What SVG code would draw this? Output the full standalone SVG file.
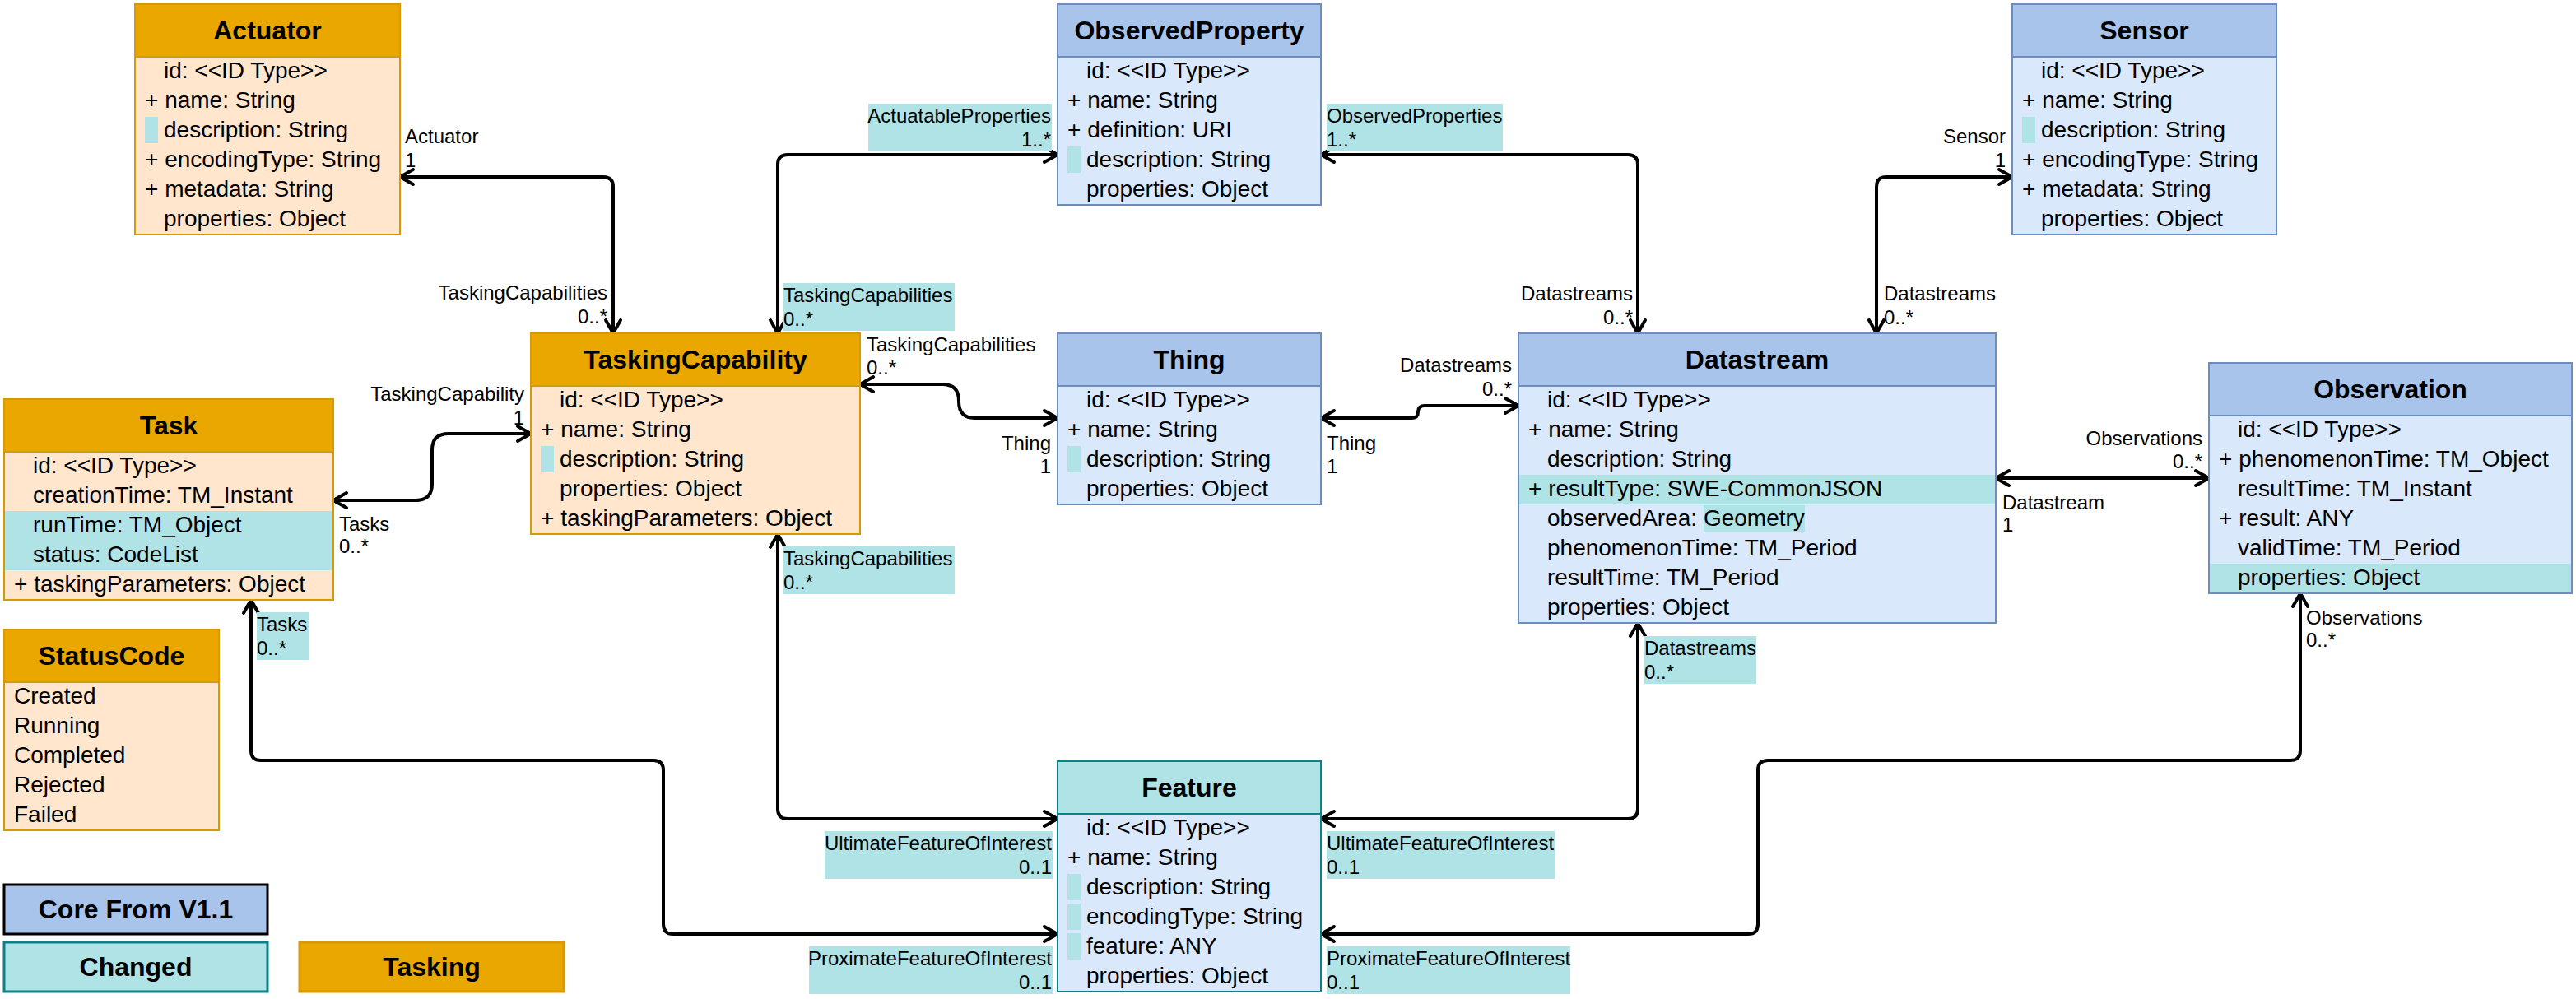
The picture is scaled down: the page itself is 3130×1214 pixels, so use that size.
<svg xmlns="http://www.w3.org/2000/svg" width="3130" height="1214" viewBox="0 0 3130 1214">
<style>
text{font-family:"Liberation Sans",Arial,Helvetica,sans-serif;font-size:28px;fill:#000}
.h{font-weight:bold;font-size:32px;text-anchor:middle}
.l{font-size:24px}
.e{text-anchor:end}
.ob{fill:#FFE6CC;stroke:#D79B00;stroke-width:2}
.oh{fill:#EAA700;stroke:#D79B00;stroke-width:2}
.bb{fill:#DAE8FC;stroke:#6C8EBF;stroke-width:2}
.bh{fill:#A9C4EB;stroke:#6C8EBF;stroke-width:2}
.fb{fill:#DAE8FC;stroke:#0E8088;stroke-width:2}
.fh{fill:#B0E3E6;stroke:#0E8088;stroke-width:2}
.c{fill:#B0E3E6}
.conn path{fill:none;stroke:#000;stroke-width:4;marker-start:url(#arr);marker-end:url(#arr)}
</style>
<defs>
<marker id="arr" viewBox="-22 -14 28 28" refX="0" refY="0" markerWidth="28" markerHeight="28" markerUnits="userSpaceOnUse" orient="auto-start-reverse">
<path d="M-16,-9 L0,0 L-16,9" fill="none" stroke="#000" stroke-width="4" stroke-linecap="round"/>
</marker>
</defs>
<rect width="3130" height="1214" fill="#fff"/>

<g id="connectors" class="conn">
<path d="M486,215 L733,215 Q745,215 745,227 L745,405"/>
<path d="M1285,188 L957,188 Q945,188 945,200 L945,405"/>
<path d="M1605,188 L1978,188 Q1990,188 1990,200 L1990,405"/>
<path d="M2445,215 L2292,215 Q2280,215 2280,227 L2280,405"/>
<path d="M405,608 L505,608 Q525,608 525,588 L525,547 Q525,527 545,527 L645,527"/>
<path d="M1045,467 L1145,467 Q1165,467 1165,487 L1165,488 Q1165,508 1185,508 L1285,508"/>
<path d="M1605,508 L1715,508 Q1723,508 1723,500.5 Q1723,493 1731,493 L1845,493"/>
<path d="M2425,581 L2684,581"/>
<path d="M945,649 L945,983 Q945,995 957,995 L1285,995"/>
<path d="M1990,757 L1990,983 Q1990,995 1978,995 L1605,995"/>
<path d="M305,729 L305,912 Q305,924 317,924 L794,924 Q806,924 806,936 L806,1123 Q806,1135 818,1135 L1285,1135"/>
<path d="M2795,721 L2795,912 Q2795,924 2783,924 L2148,924 Q2136,924 2136,936 L2136,1123 Q2136,1135 2124,1135 L1605,1135"/>
<g id="edge-labels">
<rect class="c" x="1055" y="126" width="223" height="58"/>
<rect class="c" x="952" y="344" width="208" height="58"/>
<rect class="c" x="1612" y="126" width="214" height="58"/>
<rect class="c" x="312" y="744" width="64" height="58"/>
<rect class="c" x="952" y="664" width="208" height="58"/>
<rect class="c" x="1998" y="773" width="136" height="58"/>
<rect class="c" x="1002" y="1010" width="277" height="58"/>
<rect class="c" x="983" y="1150" width="296" height="58"/>
<rect class="c" x="1612" y="1010" width="277" height="58"/>
<rect class="c" x="1612" y="1150" width="296" height="58"/>
<text class="l" x="492" y="174">Actuator</text><text class="l" x="492" y="203">1</text>
<text class="l e" x="738" y="364">TaskingCapabilities</text><text class="l e" x="738" y="393">0..*</text>
<text class="l e" x="1277" y="149">ActuatableProperties</text><text class="l e" x="1277" y="178">1..*</text>
<text class="l" x="952" y="367">TaskingCapabilities</text><text class="l" x="952" y="396">0..*</text>
<text class="l" x="1612" y="149">ObservedProperties</text><text class="l" x="1612" y="178">1..*</text>
<text class="l e" x="1984" y="365">Datastreams</text><text class="l e" x="1984" y="394">0..*</text>
<text class="l e" x="2437" y="174">Sensor</text><text class="l e" x="2437" y="203">1</text>
<text class="l" x="2289" y="365">Datastreams</text><text class="l" x="2289" y="394">0..*</text>
<text class="l e" x="637" y="487">TaskingCapability</text><text class="l e" x="637" y="516">1</text>
<text class="l" x="412" y="645">Tasks</text><text class="l" x="412" y="672">0..*</text>
<text class="l" x="1053" y="427">TaskingCapabilities</text><text class="l" x="1053" y="455">0..*</text>
<text class="l e" x="1277" y="547">Thing</text><text class="l e" x="1277" y="575">1</text>
<text class="l" x="1612" y="547">Thing</text><text class="l" x="1612" y="575">1</text>
<text class="l e" x="1837" y="452">Datastreams</text><text class="l e" x="1837" y="481">0..*</text>
<text class="l e" x="2676" y="541">Observations</text><text class="l e" x="2676" y="569">0..*</text>
<text class="l" x="2433" y="619">Datastream</text><text class="l" x="2433" y="646">1</text>
<text class="l" x="312" y="767">Tasks</text><text class="l" x="312" y="796">0..*</text>
<text class="l" x="952" y="687">TaskingCapabilities</text><text class="l" x="952" y="716">0..*</text>
<text class="l" x="1998" y="796">Datastreams</text><text class="l" x="1998" y="825">0..*</text>
<text class="l" x="2802" y="759">Observations</text><text class="l" x="2802" y="786">0..*</text>
<text class="l e" x="1278" y="1033">UltimateFeatureOfInterest</text><text class="l e" x="1278" y="1062">0..1</text>
<text class="l e" x="1278" y="1173">ProximateFeatureOfInterest</text><text class="l e" x="1278" y="1202">0..1</text>
<text class="l" x="1612" y="1033">UltimateFeatureOfInterest</text><text class="l" x="1612" y="1062">0..1</text>
<text class="l" x="1612" y="1173">ProximateFeatureOfInterest</text><text class="l" x="1612" y="1202">0..1</text>
</g>
</g>

<g id="actuator">
<rect class="ob" x="164" y="5" width="322" height="280"/>
<rect class="oh" x="164" y="5" width="322" height="64"/>
<text class="h" x="325" y="48">Actuator</text>
<rect class="c" x="176" y="142" width="16" height="32"/>
<text x="199" y="95">id: &lt;&lt;ID Type&gt;&gt;</text>
<text x="176" y="131">+ name: String</text>
<text x="199" y="167">description: String</text>
<text x="176" y="203">+ encodingType: String</text>
<text x="176" y="239">+ metadata: String</text>
<text x="199" y="275">properties: Object</text>
</g>

<g id="task">
<rect class="ob" x="5" y="485" width="400" height="244"/>
<rect class="oh" x="5" y="485" width="400" height="64"/>
<rect class="c" x="6" y="621" width="398" height="72"/>
<text class="h" x="205" y="528">Task</text>
<text x="40" y="575">id: &lt;&lt;ID Type&gt;&gt;</text>
<text x="40" y="611">creationTime: TM_Instant</text>
<text x="40" y="647">runTime: TM_Object</text>
<text x="40" y="683">status: CodeList</text>
<text x="17" y="719">+ taskingParameters: Object</text>
</g>

<g id="statuscode">
<rect class="ob" x="5" y="765" width="261" height="244"/>
<rect class="oh" x="5" y="765" width="261" height="64"/>
<text class="h" x="135.5" y="808">StatusCode</text>
<text x="17" y="855">Created</text>
<text x="17" y="891">Running</text>
<text x="17" y="927">Completed</text>
<text x="17" y="963">Rejected</text>
<text x="17" y="999">Failed</text>
</g>

<g id="taskingcapability">
<rect class="ob" x="645" y="405" width="400" height="244"/>
<rect class="oh" x="645" y="405" width="400" height="64"/>
<text class="h" x="845" y="448">TaskingCapability</text>
<rect class="c" x="657" y="542" width="16" height="32"/>
<text x="680" y="495">id: &lt;&lt;ID Type&gt;&gt;</text>
<text x="657" y="531">+ name: String</text>
<text x="680" y="567">description: String</text>
<text x="680" y="603">properties: Object</text>
<text x="657" y="639">+ taskingParameters: Object</text>
</g>

<g id="observedproperty">
<rect class="bb" x="1285" y="5" width="320" height="244"/>
<rect class="bh" x="1285" y="5" width="320" height="64"/>
<text class="h" x="1445" y="48">ObservedProperty</text>
<rect class="c" x="1297" y="178" width="16" height="32"/>
<text x="1320" y="95">id: &lt;&lt;ID Type&gt;&gt;</text>
<text x="1297" y="131">+ name: String</text>
<text x="1297" y="167">+ definition: URI</text>
<text x="1320" y="203">description: String</text>
<text x="1320" y="239">properties: Object</text>
</g>

<g id="thing">
<rect class="bb" x="1285" y="405" width="320" height="208"/>
<rect class="bh" x="1285" y="405" width="320" height="64"/>
<text class="h" x="1445" y="448">Thing</text>
<rect class="c" x="1297" y="542" width="16" height="32"/>
<text x="1320" y="495">id: &lt;&lt;ID Type&gt;&gt;</text>
<text x="1297" y="531">+ name: String</text>
<text x="1320" y="567">description: String</text>
<text x="1320" y="603">properties: Object</text>
</g>

<g id="sensor">
<rect class="bb" x="2445" y="5" width="321" height="280"/>
<rect class="bh" x="2445" y="5" width="321" height="64"/>
<text class="h" x="2605.5" y="48">Sensor</text>
<rect class="c" x="2457" y="142" width="16" height="32"/>
<text x="2480" y="95">id: &lt;&lt;ID Type&gt;&gt;</text>
<text x="2457" y="131">+ name: String</text>
<text x="2480" y="167">description: String</text>
<text x="2457" y="203">+ encodingType: String</text>
<text x="2457" y="239">+ metadata: String</text>
<text x="2480" y="275">properties: Object</text>
</g>

<g id="datastream">
<rect class="bb" x="1845" y="405" width="580" height="352"/>
<rect class="bh" x="1845" y="405" width="580" height="64"/>
<rect class="c" x="1846" y="577" width="578" height="36"/>
<rect class="c" x="2070" y="614" width="123" height="32"/>
<text class="h" x="2135" y="448">Datastream</text>
<text x="1880" y="495">id: &lt;&lt;ID Type&gt;&gt;</text>
<text x="1857" y="531">+ name: String</text>
<text x="1880" y="567">description: String</text>
<text x="1857" y="603">+ resultType: SWE-CommonJSON</text>
<text x="1880" y="639">observedArea: Geometry</text>
<text x="1880" y="675">phenomenonTime: TM_Period</text>
<text x="1880" y="711">resultTime: TM_Period</text>
<text x="1880" y="747">properties: Object</text>
</g>

<g id="observation">
<rect class="bb" x="2684" y="441" width="441" height="280"/>
<rect class="bh" x="2684" y="441" width="441" height="64"/>
<rect class="c" x="2685" y="685" width="439" height="35"/>
<text class="h" x="2904.5" y="484">Observation</text>
<text x="2719" y="531">id: &lt;&lt;ID Type&gt;&gt;</text>
<text x="2696" y="567">+ phenomenonTime: TM_Object</text>
<text x="2719" y="603">resultTime: TM_Instant</text>
<text x="2696" y="639">+ result: ANY</text>
<text x="2719" y="675">validTime: TM_Period</text>
<text x="2719" y="711">properties: Object</text>
</g>

<g id="feature">
<rect class="fb" x="1285" y="925" width="320" height="280"/>
<rect class="fh" x="1285" y="925" width="320" height="64"/>
<text class="h" x="1445" y="968">Feature</text>
<rect class="c" x="1297" y="1062" width="16" height="32"/>
<rect class="c" x="1297" y="1098" width="16" height="32"/>
<rect class="c" x="1297" y="1134" width="16" height="32"/>
<text x="1320" y="1015">id: &lt;&lt;ID Type&gt;&gt;</text>
<text x="1297" y="1051">+ name: String</text>
<text x="1320" y="1087">description: String</text>
<text x="1320" y="1123">encodingType: String</text>
<text x="1320" y="1159">feature: ANY</text>
<text x="1320" y="1195">properties: Object</text>
</g>

<g id="legend-core">
<rect x="5" y="1075" width="320" height="60" fill="#A9C4EB" stroke="#000" stroke-width="3"/>
<text class="h" x="165" y="1116">Core From V1.1</text>
</g>
<g id="legend-changed">
<rect x="5" y="1145" width="320" height="60" fill="#B0E3E6" stroke="#0E8088" stroke-width="3"/>
<text class="h" x="165" y="1186">Changed</text>
</g>
<g id="legend-tasking">
<rect x="364" y="1145" width="321" height="60" fill="#EAA700" stroke="#D79B00" stroke-width="3"/>
<text class="h" x="524.5" y="1186">Tasking</text>
</g>
</svg>
